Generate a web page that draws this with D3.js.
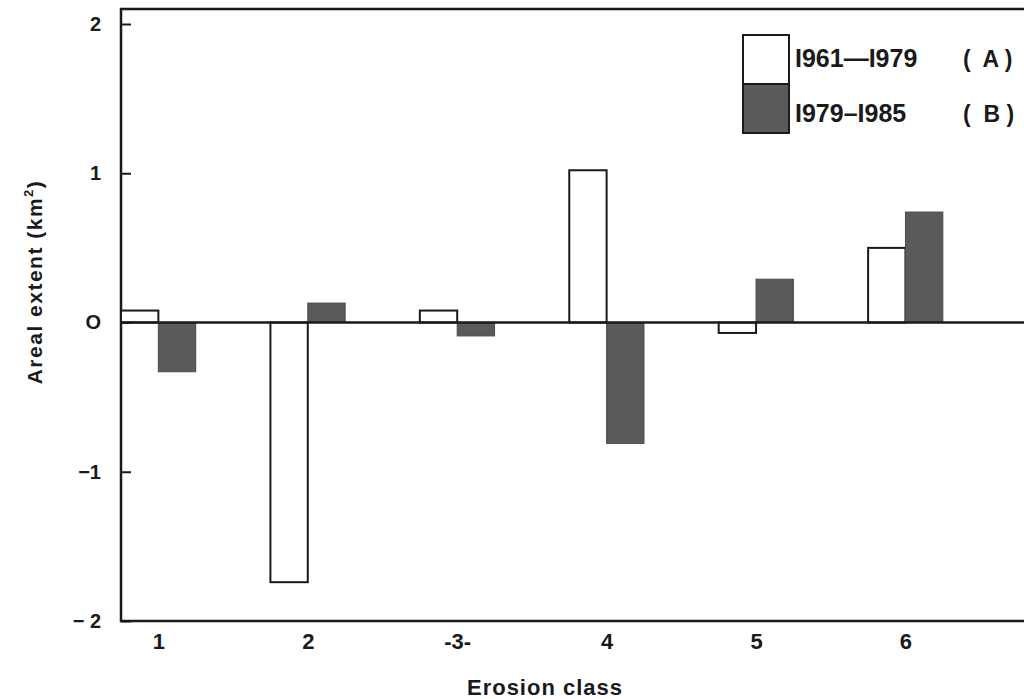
<!DOCTYPE html>
<html>
<head>
<meta charset="utf-8">
<script src="https://cdn.jsdelivr.net/npm/d3@7"></script>
<style>
  html, body { margin: 0; padding: 0; background: #fff; }
  svg { display: block; font-family: "Liberation Sans", Arial, sans-serif; }
</style>
</head>
<body>
<div id="chart"></div>
<script>
// Erosion classes and change in areal extent (km2) per period
const classes = [1, 2, 3, 4, 5, 6];
const classLabels = ['1', '2', '-3-', '4', '5', '6'];
const periodA = [0.08, -1.74, 0.08, 1.02, -0.07, 0.50];   // 1961-1979
const periodB = [-0.33, 0.13, -0.09, -0.81, 0.29, 0.74];  // 1979-1985
const yTicks = [-2, -1, 0, 1, 2];
const yTickLabels = ['\u2212 2', '\u22121', 'O', '1', '2'];
const legendLabels = ['I961\u2014I979', 'I979\u2013I985'];
const legendCodes = ['(  A )', '(  B )'];

const width = 1024, height = 699;
const fillA = '#ffffff', fillB = '#5a5a5a';

const svg = d3.select('#chart').append('svg')
    .attr('width', width)
    .attr('height', height);

// x: class number, y: areal extent
const x = d3.scaleLinear().domain([0.75, 6.8]).range([121, 1025]);
const y = d3.scaleLinear().domain([-2, 2]).range([621, 24]);
const barW = x(1.25) - x(1);

// Frame: top border, left axis, bottom axis
const frameTop = 9;
svg.append('path')
    .attr('d', `M${width + 2},${frameTop} H${x(0.75)} V${y(-2)} H${width + 2}`)
    .attr('fill', 'none')
    .attr('stroke', '#1a1a1a')
    .attr('stroke-width', 2.5);

// Bars A (open)
svg.selectAll('.barA')
    .data(classes)
    .enter().append('rect')
    .attr('class', 'barA')
    .attr('x', (d) => x(d) - barW)
    .attr('y', (d, i) => y(Math.max(0, periodA[i])))
    .attr('width', barW)
    .attr('height', (d, i) => Math.abs(y(periodA[i]) - y(0)))
    .attr('fill', fillA)
    .attr('stroke', '#1a1a1a')
    .attr('stroke-width', 2);

// Bars B (shaded)
svg.selectAll('.barB')
    .data(classes)
    .enter().append('rect')
    .attr('class', 'barB')
    .attr('x', (d) => x(d))
    .attr('y', (d, i) => y(Math.max(0, periodB[i])))
    .attr('width', barW)
    .attr('height', (d, i) => Math.abs(y(periodB[i]) - y(0)))
    .attr('fill', fillB)
    .attr('stroke', '#4a4a4a')
    .attr('stroke-width', 1);

// Zero line
svg.append('line')
    .attr('x1', x(0.75)).attr('x2', width)
    .attr('y1', y(0)).attr('y2', y(0))
    .attr('stroke', '#1a1a1a')
    .attr('stroke-width', 2.5);

// Y axis with inward ticks
const yAxis = d3.axisLeft(y)
    .tickValues(yTicks)
    .tickSize(-10)
    .tickPadding(20)
    .tickFormat((d, i) => yTickLabels[i]);

const gy = svg.append('g')
    .attr('transform', `translate(${x(0.75)},0)`)
    .call(yAxis);
gy.select('.domain').remove();
gy.selectAll('line').attr('stroke', '#1a1a1a').attr('stroke-width', 2);
gy.selectAll('text')
    .attr('fill', '#1a1a1a')
    .style('font-size', '20px')
    .style('font-weight', 'bold');

// X axis labels
const xAxis = d3.axisBottom(x)
    .tickValues(classes)
    .tickSize(0)
    .tickPadding(12)
    .tickFormat((d, i) => classLabels[i]);

const gx = svg.append('g')
    .attr('transform', `translate(0,${y(-2)})`)
    .call(xAxis);
gx.select('.domain').remove();
gx.selectAll('text')
    .attr('fill', '#1a1a1a')
    .style('font-size', '22px')
    .style('font-weight', 'bold');

// Axis titles
svg.append('text')
    .attr('x', 545)
    .attr('y', 695)
    .attr('text-anchor', 'middle')
    .attr('fill', '#1a1a1a')
    .style('font-size', '22px')
    .style('font-weight', 'bold')
    .style('letter-spacing', '1px')
    .text('Erosion class');

const yTitle = svg.append('text')
    .attr('transform', 'translate(42,282) rotate(-90)')
    .attr('text-anchor', 'middle')
    .attr('fill', '#1a1a1a')
    .style('font-size', '21px')
    .style('font-weight', 'bold')
    .style('letter-spacing', '1.5px');
yTitle.append('tspan').text('Areal extent  (km');
yTitle.append('tspan').attr('dy', -9).style('font-size', '13px').text('2');
yTitle.append('tspan').attr('dy', 9).text(')');

// Legend
const legend = svg.append('g').attr('transform', 'translate(743,35)');
const boxW = 46, boxH = 49;
legend.selectAll('rect')
    .data(legendLabels)
    .enter().append('rect')
    .attr('x', 0)
    .attr('y', (d, i) => i * boxH)
    .attr('width', boxW)
    .attr('height', boxH)
    .attr('fill', (d, i) => i === 0 ? fillA : fillB)
    .attr('stroke', '#1a1a1a')
    .attr('stroke-width', 2);

legend.selectAll('.lab')
    .data(legendLabels)
    .enter().append('text')
    .attr('class', 'lab')
    .attr('x', boxW + 6)
    .attr('y', (d, i) => 32 + i * 55)
    .attr('fill', '#1a1a1a')
    .style('font-size', '25px')
    .style('font-weight', 'bold')
    .text((d) => d);

legend.selectAll('.code')
    .data(legendCodes)
    .enter().append('text')
    .attr('class', 'code')
    .attr('x', 220)
    .attr('y', (d, i) => 32 + i * 55)
    .attr('fill', '#1a1a1a')
    .style('font-size', '23px')
    .style('font-weight', 'bold')
    .style('white-space', 'pre')
    .text((d) => d);
</script>
</body>
</html>
